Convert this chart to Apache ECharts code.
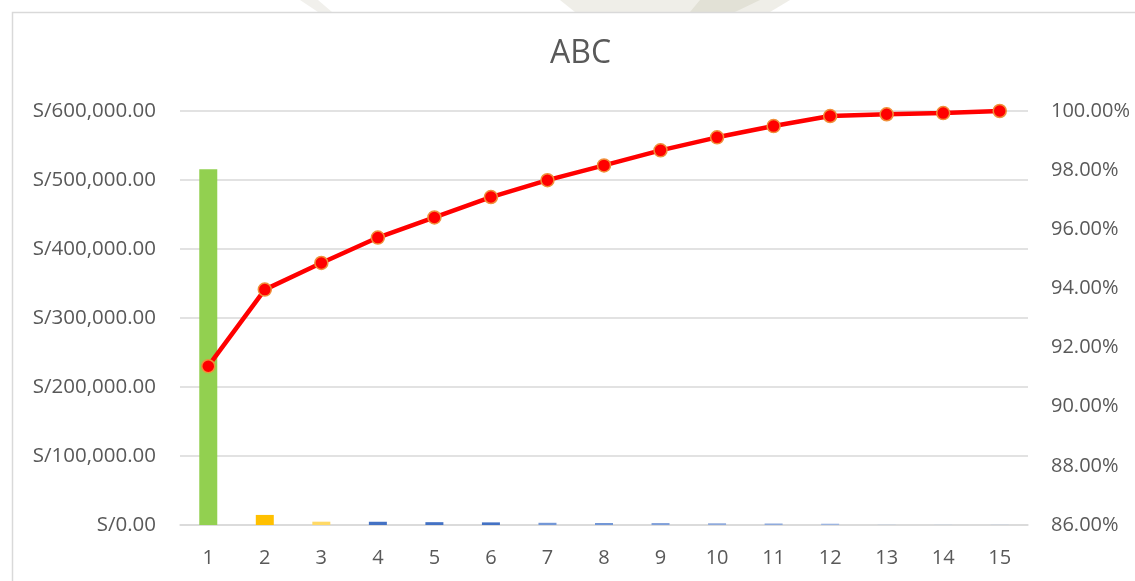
<!DOCTYPE html>
<html>
<head>
<meta charset="utf-8">
<script src="https://cdn.jsdelivr.net/npm/echarts@6/dist/echarts.min.js"></script>
<style>
  html, body { margin: 0; padding: 0; background: #ffffff; }
  #chart { width: 1135px; height: 581px; }
</style>
</head>
<body>
<div id="chart"></div>
<script>
// Items ranked by sales (ABC classification)
const categories = ['1', '2', '3', '4', '5', '6', '7', '8', '9', '10', '11', '12', '13', '14', '15'];
const salesValues = [515600, 14600, 4800, 4700, 4100, 3800, 3200, 2900, 2800, 2500, 2200, 1900, 350, 250, 300];
const cumulativePct = [91.37, 93.96, 94.86, 95.72, 96.40, 97.09, 97.66, 98.16, 98.67, 99.11, 99.49, 99.83, 99.89, 99.93, 100.00];
const leftTicks = [0, 100000, 200000, 300000, 400000, 500000, 600000];
const rightTicks = [86, 88, 90, 92, 94, 96, 98, 100];

// Bar fill per ranked item: A (green), B (yellows), C (blues)
const barColors = ['#92D050', '#FFC000', '#FFD966',
  '#4472C4', '#4472C4', '#4472C4',
  '#7397D6', '#7397D6', '#7F9FD9',
  '#8FAADC', '#8FAADC', '#9DB5E0',
  '#B4C7E7', '#B4C7E7', '#B4C7E7'];

const FONT = '"Open Sans"';
const TEXT = '#595959';
const GRID = '#D9D9D9';

function money(v) {
  const fixed = Number(v).toFixed(2);
  const parts = fixed.split('.');
  parts[0] = parts[0].replace(/\B(?=(\d{3})+(?!\d))/g, ',');
  return 'S/' + parts.join('.');
}

const chart = echarts.init(document.getElementById('chart'), null, { renderer: 'canvas' });

chart.setOption({
  backgroundColor: '#ffffff',
  animation: false,
  graphic: [
    // faint backdrop above the chart frame
    { type: 'polygon', silent: true, z: -10,
      shape: { points: [[560, 0], [790, 0], [770, 12], [575, 12]] },
      style: { fill: '#EFEEE8' } },
    { type: 'polygon', silent: true, z: -10,
      shape: { points: [[700, 0], [760, 0], [735, 12], [690, 12]] },
      style: { fill: '#E2E1D6' } },
    { type: 'polygon', silent: true, z: -10,
      shape: { points: [[300, 0], [318, 0], [332, 12], [318, 12]] },
      style: { fill: '#F1F0EC' } },
    // chart frame
    { type: 'rect', silent: true, z: -5,
      shape: { x: 12.5, y: 12.5, width: 1140, height: 600 },
      style: { fill: '#ffffff', stroke: GRID, lineWidth: 1.5 } },
    // chart title, centred on the frame
    { type: 'text', silent: true, z: 10,
      left: 581 - 31, top: 38,
      style: { text: 'ABC', x: 0, y: 0, fontFamily: FONT, fontSize: 32, fill: TEXT,
        textAlign: 'left' } }
  ],
  grid: { left: 180, right: 107, top: 111, bottom: 56 },
  xAxis: {
    type: 'category',
    data: categories,
    axisLine: { show: true, lineStyle: { color: GRID, width: 1.5 } },
    axisTick: { show: false },
    axisLabel: { fontFamily: FONT, fontSize: 20, color: TEXT, margin: 23 }
  },
  yAxis: [
    {
      type: 'value',
      min: leftTicks[0],
      max: leftTicks[leftTicks.length - 1],
      interval: leftTicks[1] - leftTicks[0],
      axisLine: { show: false },
      axisTick: { show: false },
      splitLine: { show: true, lineStyle: { color: GRID, width: 1.5 } },
      axisLabel: { fontFamily: FONT, fontSize: 20.5, color: TEXT, margin: 24,
        formatter: v => money(v) }
    },
    {
      type: 'value',
      min: rightTicks[0],
      max: rightTicks[rightTicks.length - 1],
      interval: rightTicks[1] - rightTicks[0],
      axisLine: { show: false },
      axisTick: { show: false },
      splitLine: { show: false },
      axisLabel: { fontFamily: FONT, fontSize: 20, color: TEXT, margin: 23,
        formatter: v => v.toFixed(2) + '%' }
    }
  ],
  series: [
    {
      name: 'Ventas',
      type: 'bar',
      yAxisIndex: 0,
      data: salesValues,
      barWidth: 18,
      itemStyle: { color: p => barColors[p.dataIndex] }
    },
    {
      name: '% Acumulado',
      type: 'line',
      yAxisIndex: 1,
      data: cumulativePct,
      z: 5,
      symbol: 'circle',
      symbolSize: 13,
      lineStyle: { color: '#FF0000', width: 4.5 },
      itemStyle: { color: '#FF0000', borderColor: '#F0903A', borderWidth: 1.5 }
    }
  ]
});
</script>
</body>
</html>
